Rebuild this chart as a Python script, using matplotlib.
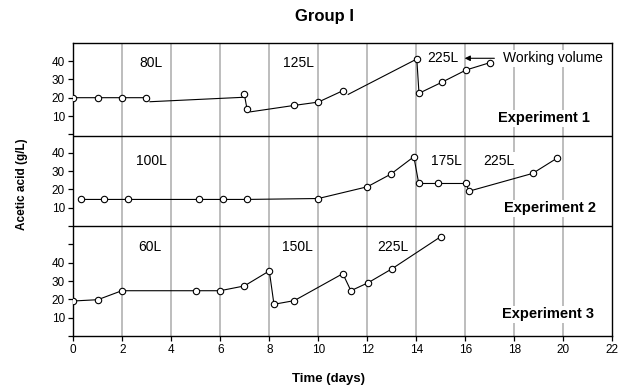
import numpy as np
import matplotlib.pyplot as plt

plt.rcParams['font.family'] = ['Liberation Sans', 'DejaVu Sans']

nan = np.nan

# experiment 1 (80L -> 125L -> 225L)
exp1_day = [0, 1.0, 1.98, 2.97, 6.98, 7.09, 9.02, 10.0, 11.0, 14.02, 14.11, 15.04, 16.03, 17.0]
exp1_acid = [20, 20, 20, 20, 22, 13.8, 15.8, 17.6, 23.8, 41.1, 22.4, 28.4, 35.1, 39.1]
# line pieces as drawn (broken where volume was changed)
exp1_line_day = [0, 1.0, 1.98, 2.97, nan, 3.13, 6.91, nan, 6.98, 7.09, nan, 7.24, 9.02, 10.0, 11.0,
                 nan, 11.22, 14.02, 14.11, 15.04, 16.03, 17.0]
exp1_line_acid = [20, 20, 20, 20, nan, 17.8, 20.2, nan, 22, 13.8, nan, 12.3, 15.8, 17.6, 23.8,
                  nan, 21.8, 41.1, 22.4, 28.4, 35.1, 39.1]

# experiment 2 (100L -> 175L -> 225L)
exp2_day = [0.3, 1.27, 2.24, 5.14, 6.12, 7.1, 10.0, 12.0, 12.96, 13.9, 14.1, 14.87, 16.03, 16.15, 18.75, 19.73]
exp2_acid = [14.5, 14.5, 14.5, 14.5, 14.5, 14.5, 15.0, 21.4, 28.3, 37.8, 23.2, 23.2, 23.2, 19.0, 28.7, 36.9]

# experiment 3 (60L -> 150L -> 225L)
exp3_day = [0, 1.0, 1.98, 5.0, 5.99, 6.98, 8.0, 8.19, 9.02, 11.0, 11.33, 12.04, 13.0, 15.0]
exp3_acid = [19.1, 19.8, 24.7, 24.7, 24.7, 27.3, 35.5, 17.3, 19.3, 34.0, 24.7, 29.1, 36.6, 54.2]

# each experiment gets its own band on the shared y axis
offsets = [110, 60, 0]
dividers = [109, 60]

vol_labels = [["80L", "125L", "225L"], ["100L", "175L", "225L"], ["60L", "150L", "225L"]]
vol_pos = [[(3.18, 38.7), (9.2, 38.7), (15.1, 41.6)],
           [(3.17, 35.6), (15.24, 35.6), (17.36, 35.6)],
           [(3.13, 48.7), (9.14, 48.7), (13.04, 48.7)]]
exp_names = ["Experiment 1", "Experiment 2", "Experiment 3"]
exp_pos = [(19.2, 8.7), (19.46, 9.6), (19.37, 11.8)]

fig = plt.figure(figsize=(6.29, 3.90), dpi=100)
ax = fig.add_axes([73.3 / 629, 54 / 390, 539 / 629, 293.3 / 390])

for d in range(2, 22, 2):
    ax.axvline(d, color='#ababab', lw=1.1, zorder=1)
for y in dividers:
    ax.axhline(y, color='black', lw=1.0, zorder=2)

mk = dict(marker='o', ms=4.6, mfc='white', mec='black', mew=0.8, ls='none', zorder=5)
lk = dict(color='black', lw=0.8, zorder=4)

ax.plot(exp1_line_day, np.array(exp1_line_acid) + offsets[0], **lk)
ax.plot(exp1_day, np.array(exp1_acid) + offsets[0], **mk)
ax.plot(exp2_day, np.array(exp2_acid) + offsets[1], **lk)
ax.plot(exp2_day, np.array(exp2_acid) + offsets[1], **mk)
ax.plot(exp3_day, np.array(exp3_acid) + offsets[2], **lk)
ax.plot(exp3_day, np.array(exp3_acid) + offsets[2], **mk)

box = dict(facecolor='white', edgecolor='none', pad=1.0)
for i in range(3):
    for lab, (x, y) in zip(vol_labels[i], vol_pos[i]):
        ax.text(x, y + offsets[i], lab, ha='center', va='center', fontsize=10, bbox=box, zorder=3)
    ex, ey = exp_pos[i]
    ax.text(ex, ey + offsets[i], exp_names[i], ha='center', va='center', fontsize=10.5,
            fontweight='bold', bbox=box, zorder=3)

ax.annotate("", xy=(15.86, 151.5), xytext=(17.3, 151.5),
            arrowprops=dict(arrowstyle='-|>', color='black', lw=0.8, mutation_scale=8), zorder=6)
ax.text(17.54, 151.5, "Working volume", ha='left', va='center', fontsize=10, bbox=box, zorder=3)

ax.set_xlim(0, 22)
ax.set_ylim(0, 160)
ax.set_xticks(range(0, 23, 2))
yt = list(range(0, 160, 10))
ylab = []
for t in yt:
    v = t - 110 if t >= 110 else (t - 60 if t >= 60 else t)
    ylab.append(str(v) if 10 <= v <= 40 else "")
ax.set_yticks(yt)
ax.set_yticklabels(ylab)
ax.tick_params(direction='out', length=3.5, width=0.9, labelsize=8.5, pad=2.5)
for s in ax.spines.values():
    s.set_linewidth(1.0)

fig.text(324.5 / 629, 1 - 17 / 390, "Group I", ha='center', va='center', fontsize=12, fontweight='bold')
fig.text(328.8 / 629, 1 - 379 / 390, "Time (days)", ha='center', va='center', fontsize=9.5, fontweight='bold')
fig.text(22 / 629, 1 - 184 / 390, "Acetic acid (g/L)", ha='center', va='center', rotation=90,
         fontsize=8.5, fontweight='bold')

fig.savefig("out.png", dpi=100)
